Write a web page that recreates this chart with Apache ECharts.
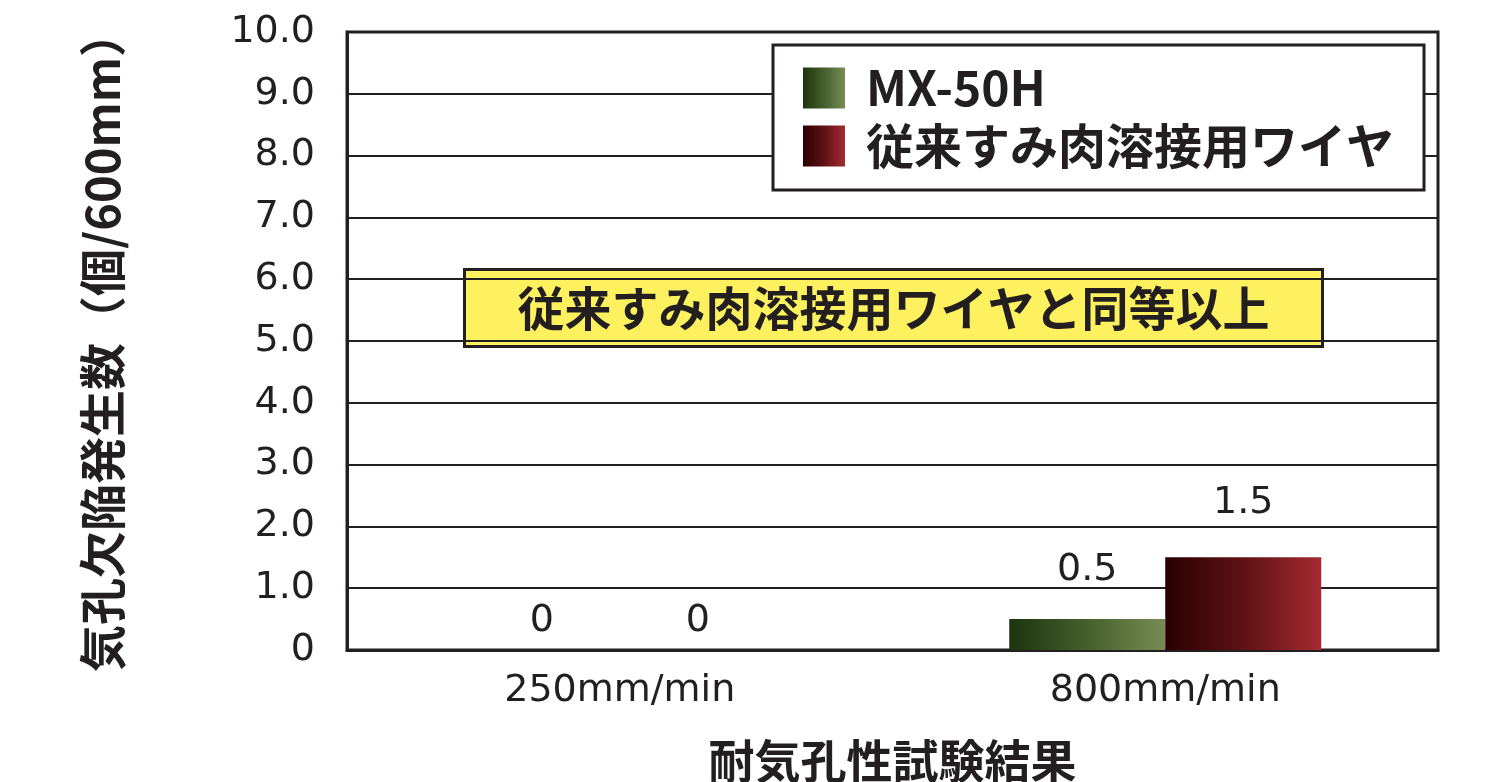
<!DOCTYPE html>
<html>
<head>
<meta charset="utf-8">
<script src="https://cdn.jsdelivr.net/npm/echarts@6/dist/echarts.min.js"></script>
<style>
  html, body { margin: 0; padding: 0; background: #fff; }
  #r { width: 1489px; height: 782px; }
</style>
</head>
<body>
<div id="r"></div>
<script>
// データ
var categories = ['250mm/min', '800mm/min']
var seriesNames = ['MX-50H', '従来すみ肉溶接用ワイヤ']
var mx50hValues = [0, 0.5]
var conventionalValues = [0, 1.5]
var yTicks = [0, 1, 2, 3, 4, 5, 6, 7, 8, 9, 10]
var yAxisTitle = '気孔欠陥発生数（個/600mm）'
var xAxisTitle = '耐気孔性試験結果'
var noteText = '従来すみ肉溶接用ワイヤと同等以上'

var ink = '#231f20'
var numFont = 'DejaVu Sans'
var jpFont = '"Noto Sans CJK JP", "Noto Sans", sans-serif'

function grad(c0, c1, c2) {
  return new echarts.graphic.LinearGradient(0, 0, 1, 0, [
    { offset: 0, color: c0 },
    { offset: 0.5, color: c1 },
    { offset: 1, color: c2 }
  ])
}

// ラベル位置 (棒の上からの距離)
function withLabel(values, dists) {
  return values.map(function (v, i) {
    return { value: v, label: { distance: dists[i] } }
  })
}

var chart = echarts.init(document.getElementById('r'))
var option = {
  animation: false,
  backgroundColor: '#fff',
  grid: {
    left: 347,
    right: 51,
    top: 32,
    bottom: 132,
    containLabel: false,
    outerBoundsMode: 'none',
    show: true,
    borderColor: ink,
    borderWidth: 3
  },
  legend: {
    left: 773,
    top: 45,
    orient: 'vertical',
    data: seriesNames,
    icon: 'rect',
    itemWidth: 42,
    itemHeight: 41,
    itemGap: 10,
    padding: [19, 30, 20, 30],
    backgroundColor: '#fff',
    borderColor: ink,
    borderWidth: 3,
    borderRadius: 0,
    textStyle: {
      color: ink,
      fontFamily: jpFont,
      fontWeight: 'bold',
      fontSize: 48,
      padding: [0, 0, 0, 16]
    }
  },
  xAxis: {
    type: 'category',
    data: categories,
    name: xAxisTitle,
    nameLocation: 'middle',
    nameGap: 88,
    nameTextStyle: {
      color: ink,
      fontFamily: jpFont,
      fontWeight: 'bold',
      fontSize: 46
    },
    axisLine: { lineStyle: { color: ink, width: 3 } },
    axisTick: { show: false },
    axisLabel: {
      color: ink,
      fontFamily: numFont,
      fontSize: 38,
      margin: 22
    }
  },
  yAxis: {
    type: 'value',
    min: yTicks[0],
    max: yTicks[yTicks.length - 1],
    interval: 1,
    name: yAxisTitle,
    nameLocation: 'middle',
    nameRotate: 90,
    nameGap: 221,
    nameTextStyle: {
      color: ink,
      fontFamily: jpFont,
      fontWeight: 'bold',
      fontSize: 47
    },
    axisLine: { show: true, lineStyle: { color: ink, width: 3 } },
    axisTick: { show: false },
    splitLine: { lineStyle: { color: ink, width: 2 } },
    axisLabel: {
      color: ink,
      fontFamily: numFont,
      fontSize: 38,
      margin: 32,
      formatter: function (v) { return v === 0 ? '0' : v.toFixed(1) }
    }
  },
  series: [
    {
      name: seriesNames[0],
      type: 'bar',
      barWidth: 156,
      barGap: '0%',
      data: withLabel(mx50hValues, [10, 30]),
      itemStyle: { color: grad('#1c340f', '#46602c', '#778c53') },
      label: {
        show: true,
        position: 'top',
        color: ink,
        fontFamily: numFont,
        fontSize: 38,
        lineHeight: 38
      }
    },
    {
      name: seriesNames[1],
      type: 'bar',
      barWidth: 156,
      barGap: '0%',
      data: withLabel(conventionalValues, [10, 35]),
      itemStyle: { color: grad('#2a0000', '#5f1214', '#a62a32') },
      label: {
        show: true,
        position: 'top',
        color: ink,
        fontFamily: numFont,
        fontSize: 38,
        lineHeight: 38
      }
    }
  ],
  graphic: [
    {
      type: 'group',
      left: 463,
      top: 268,
      z: 100,
      children: [
        {
          type: 'rect',
          shape: { x: 0, y: 0, width: 858, height: 77 },
          style: { fill: '#fdf15f', stroke: ink, lineWidth: 3 }
        },
        {
          type: 'text',
          x: 429,
          y: 39,
          style: {
            text: noteText,
            fill: ink,
            font: 'bold 47px ' + jpFont,
            textAlign: 'center',
            textVerticalAlign: 'middle'
          }
        }
      ]
    }
  ]
}
chart.setOption(option)
</script>
</body>
</html>
